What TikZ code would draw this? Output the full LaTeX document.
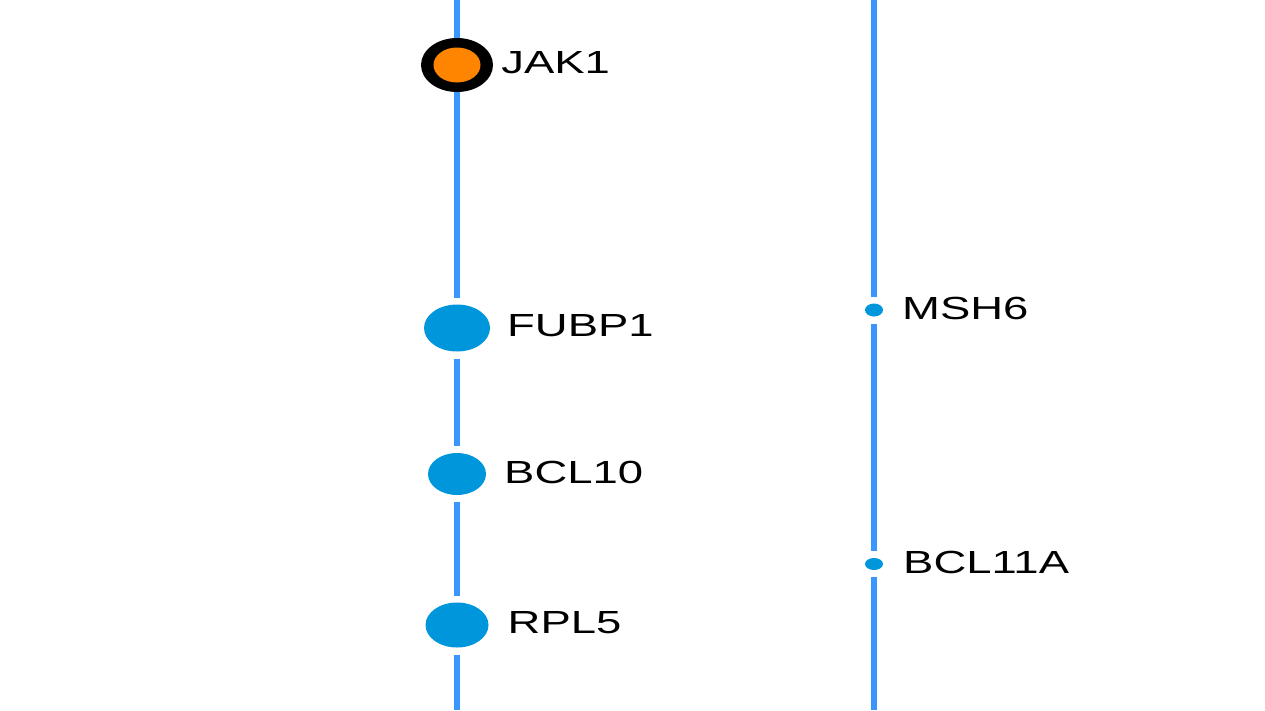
\documentclass[tikz,border=0pt]{standalone}
\usepackage{fontspec}
\setmainfont{Liberation Sans}
\usetikzlibrary{positioning,shapes.geometric}
\definecolor{trackblue}{RGB}{58,150,255}
\definecolor{dotblue}{RGB}{0,150,219}
\definecolor{mutorange}{RGB}{255,133,0}

\begin{document}
\begin{tikzpicture}[x=1pt, y=-1pt,
                        track/.style={trackblue, line width=6.5pt},
                        dot/.style={ellipse, fill=dotblue, inner sep=0pt, outer sep=7pt},
                        lbl/.style={inner sep=0pt, font=\fontsize{32}{36}\selectfont, yshift=2pt}
                        ]
    \useasboundingbox (0,0) rectangle (1265,710);
    \coordinate (ltop) at (457,0);
    \coordinate (lbot) at (457,710);
    \coordinate (rtop) at (874,0);
    \coordinate (rbot) at (874,710);
    \node[ellipse, fill=black, inner sep=0pt, minimum width=72pt, minimum height=54pt] at (457,65) (jak1) {};
    \node[dot, minimum width=66pt, minimum height=47pt] at (457,328) (fubp1) {};
    \node[dot, minimum width=58pt, minimum height=42pt] at (457,474) (bcl10) {};
    \node[dot, minimum width=63pt, minimum height=45pt] at (457,625) (rpl5) {};
    \node[dot, minimum width=18pt, minimum height=13pt] at (874,310) (msh6) {};
    \node[dot, minimum width=18pt, minimum height=12pt] at (874,564) (bcl11a) {};
    \fill[mutorange] (jak1.center) ellipse [x radius=23.5, y radius=17.5];
    \draw[track] (ltop) -- (jak1);
    \draw[track] (jak1) -- (fubp1);
    \draw[track] (fubp1) -- (bcl10);
    \draw[track] (bcl10) -- (rpl5);
    \draw[track] (rpl5) -- (lbot);
    \draw[track] (rtop) -- (msh6);
    \draw[track] (msh6) -- (bcl11a);
    \draw[track] (bcl11a) -- (rbot);
    \node[lbl, right=8pt of jak1] (jak1lbl) {\scalebox{1.42}[1]{JAK1}};
    \node[lbl, right=10pt of fubp1] (fubp1lbl) {\scalebox{1.42}[1]{FUBP1}};
    \node[lbl, right=11pt of bcl10] (bcl10lbl) {\scalebox{1.42}[1]{BCL10}};
    \node[lbl, right=12pt of rpl5] (rpl5lbl) {\scalebox{1.42}[1]{RPL5}};
    \node[lbl, right=12pt of msh6] (msh6lbl) {\scalebox{1.42}[1]{MSH6}};
    \node[lbl, right=13pt of bcl11a] (bcl11albl) {\scalebox{1.42}[1]{BCL11A}};
    \end{tikzpicture}
\end{document}
